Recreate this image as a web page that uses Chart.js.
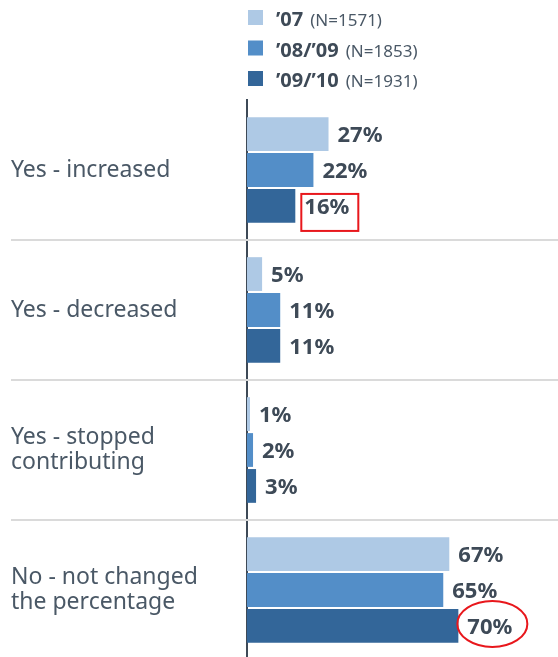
<!DOCTYPE html>
<html>
<head>
<meta charset="utf-8">
<script src="https://cdn.jsdelivr.net/npm/chart.js@4/dist/chart.umd.min.js"></script>
<style>
  html, body { margin: 0; padding: 0; background: #fff; overflow: hidden; }
  #wrap { position: relative; width: 558px; height: 661px; }
</style>
</head>
<body>
<div id="wrap"><canvas id="changes"></canvas></div>
<script>
// categories (y axis)
const categories = [
    'Yes - increased',
    'Yes - decreased',
    ['Yes - stopped', 'contributing'],
    ['No - not changed', 'the percentage']
];
// survey waves
const seriesNames = ['\u201907', '\u201908/\u201909', '\u201909/\u201910'];
const seriesN = ['(N=1571)', '(N=1853)', '(N=1931)'];
const values07 = [27, 5, 1, 67];
const values0809 = [22, 11, 2, 65];
const values0910 = [16, 11, 3, 70];
const colors = ['#aec9e5', '#538ec8', '#336699'];
// red marks: [series index, category index, shape]
const highlights = [[2, 0, 'rect'], [2, 3, 'ellipse']];

const textDark = '#3e4a57';
const textLabel = '#4a5866';

const valueLabels = {
    id: 'valueLabels',
    afterDatasetsDraw(chart) {
        let c = chart.ctx;
        c.save();
        c.font = 'bold 22px "Noto Sans"';
        c.fillStyle = textDark;
        c.textBaseline = 'middle';
        chart.data.datasets.forEach((ds, i) => {
            chart.getDatasetMeta(i).data.forEach((bar, j) => {
                c.fillText(ds.data[j] + '%', bar.x + 9, bar.y + 2);
            });
        });
        // red highlight marks
        c.strokeStyle = '#e8171c';
        c.lineWidth = 2;
        highlights.forEach(h => {
            let bar = chart.getDatasetMeta(h[0]).data[h[1]];
            if (h[2] == 'rect') {
                c.strokeRect(bar.x + 6, bar.y - 12, 57, 37);
            } else {
                c.beginPath();
                c.ellipse(bar.x + 34, bar.y - 2, 35, 23, 0, 0, Math.PI * 2);
                c.stroke();
            }
        });
        c.restore();
    }
};

const separators = {
    id: 'separators',
    beforeDatasetsDraw(chart) {
        let c = chart.ctx;
        let y = chart.scales.y;
        c.save();
        c.strokeStyle = '#dadada';
        c.lineWidth = 2;
        for (let i = 0; i < categories.length - 1; i++) {
            let py = Math.round((y.getPixelForValue(i) + y.getPixelForValue(i + 1)) / 2);
            c.beginPath();
            c.moveTo(11, py);
            c.lineTo(chart.width, py);
            c.stroke();
        }
        c.restore();
    }
};

const legendBlock = {
    id: 'legendBlock',
    afterDraw(chart) {
        let c = chart.ctx;
        c.save();
        c.textBaseline = 'alphabetic';
        chart.data.datasets.forEach((ds, i) => {
            let top = 10 + i * 30.5;
            c.fillStyle = ds.backgroundColor;
            c.fillRect(248, top, 15, 15);
            c.font = 'bold 20px "Noto Sans"';
            c.fillStyle = textDark;
            c.fillText(ds.label, 276, top + 16);
            let w = c.measureText(ds.label).width;
            c.font = '17px "Noto Sans"';
            c.fillStyle = textLabel;
            c.fillText(seriesN[i], 276 + w + 7, top + 16);
        });
        c.restore();
    }
};

let ctx = document.getElementById('changes');
let changesChart = new Chart(ctx, {
    type: 'bar',
    data: {
        labels: categories,
        datasets: [
            { label: seriesNames[0], data: values07, backgroundColor: colors[0] },
            { label: seriesNames[1], data: values0809, backgroundColor: colors[1] },
            { label: seriesNames[2], data: values0910, backgroundColor: colors[2] }
        ]
    },
    options: {
        indexAxis: 'y',
        responsive: true,
        maintainAspectRatio: false,
        animation: false,
        datasets: {
            bar: { categoryPercentage: 0.77, barPercentage: 0.94 }
        },
        layout: { padding: { top: 100, left: 11, right: 0, bottom: 1 } },
        plugins: {
            legend: { display: false },
            tooltip: { enabled: false }
        },
        scales: {
            x: {
                min: 0,
                max: 103,
                display: false
            },
            y: {
                grid: { display: false },
                border: { display: true, color: '#3e4a57', width: 2 },
                ticks: {
                    crossAlign: 'far',
                    color: textLabel,
                    font: { family: '"Noto Sans"', size: 23, lineHeight: 1.1 }
                },
                afterFit(scale) {
                    scale.width = 236;
                    scale.paddingTop = 0;
                    scale.paddingBottom = 0;
                }
            }
        }
    },
    plugins: [separators, valueLabels, legendBlock]
});
</script>
</body>
</html>
